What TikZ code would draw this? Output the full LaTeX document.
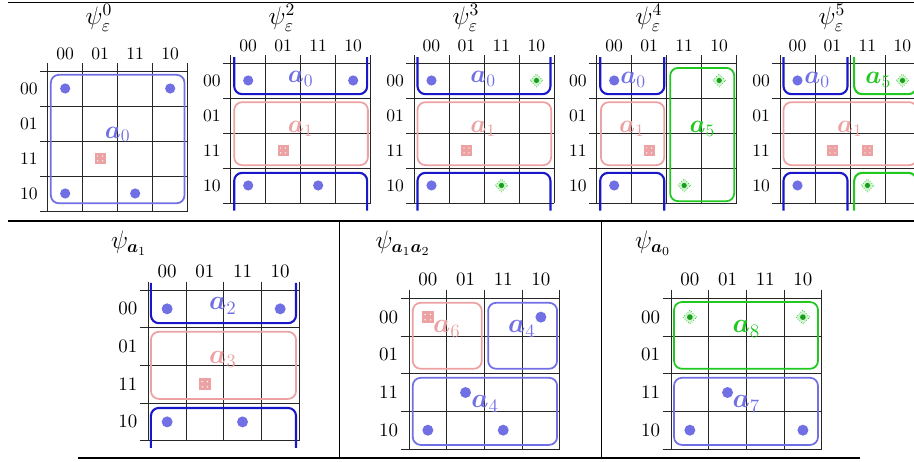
\documentclass[tikz,border=0pt]{standalone}
\usepackage{amsmath}
\usepackage{amssymb}
\usepackage{xcolor}
\usepackage{tikz}
\usetikzlibrary{shapes}

\definecolor{ptblue}{RGB}{112,112,228}
\definecolor{brblue}{RGB}{24,24,200}
\definecolor{ptpink}{RGB}{236,162,162}
\definecolor{ptgreen}{RGB}{32,200,32}

\begin{document}
\begin{tikzpicture}
  [x=0.02cm,y=0.02cm,
    %every node/.style={inner sep=1pt},
    gridline/.style={line width=0.5pt,black!85},
    bdot/.style={circle,fill=ptblue,inner sep=0pt,minimum size=5.8pt},
    pmark/.style={rectangle,fill=ptpink,inner sep=0pt,minimum size=6.3pt,
      path picture={\foreach \dx in {-1.4pt,1.4pt} \foreach \dy in {-1.4pt,1.4pt}
        \fill[white] ([shift={(\dx,\dy)}]path picture bounding box.center) circle (0.4pt);}},
    gmark/.style={diamond,draw=ptgreen,densely dotted,fill=ptgreen!20,inner sep=0pt,minimum size=7.5pt,
      path picture={\fill[ptgreen!80!black] (path picture bounding box.center) circle (1.5pt);}},
    grp/.style={rounded corners=4.5pt,line width=1pt},
    wrap/.style={rounded corners=4.5pt,line width=1.2pt,brblue},
    glabel/.style={font=\Large,anchor=base},
    title/.style={font=\Large,anchor=base},
    kmap/.pic={
      \foreach \i in {0,...,4} {
        \draw[gridline] (-0.22,-\i) -- (4,-\i);
        \draw[gridline] (\i,0.22) -- (\i,-4);
      }
      \foreach \lab [count=\i from 0] in {00,01,11,10} {
        \node (-col\lab) at (\i+0.5,0.5) {\lab};
        \node (-row\lab) at (-0.54,-\i-0.5) {\lab};
      }
    }]
  \useasboundingbox (0,0) rectangle (914,462);

  % top row
  \node[title] (t0) at (99,437) {$\psi_\varepsilon^0$};
  \node[title] (t2) at (282,437) {$\psi_\varepsilon^2$};
  \node[title] (t3) at (466,437) {$\psi_\varepsilon^3$};
  \node[title] (t4) at (649,437) {$\psi_\varepsilon^4$};
  \node[title] (t5) at (832,437) {$\psi_\varepsilon^5$};

  \begin{scope}[shift={(47.7,391)},x=0.7cm,y=0.7cm]
    \pic (m0) at (0,0) {kmap};
    \draw[grp,ptblue] (0.09,-0.11) rectangle (3.91,-3.78);
    \node[bdot] (m0d1) at (0.5,-0.5) {};
    \node[bdot] (m0d2) at (3.5,-0.5) {};
    \node[bdot] (m0d3) at (0.5,-3.5) {};
    \node[bdot] (m0d4) at (2.5,-3.5) {};
    \node[pmark] (m0p1) at (1.5,-2.5) {};
    \node[glabel,ptblue] (m0a0) at (2,-1.92) {$\boldsymbol{a}_0$};
  \end{scope}

  \begin{scope}[shift={(230.7,399)},x=0.7cm,y=0.7cm]
    \pic (m2) at (0,0) {kmap};
    \draw[wrap] (0.1,0.17) -- (0.1,-0.89) -- (3.9,-0.89) -- (3.9,0.17);
    \draw[wrap] (0.1,-4.22) -- (0.1,-3.14) -- (3.9,-3.14) -- (3.9,-4.22);
    \draw[grp,ptpink] (0.1,-1.12) rectangle (3.92,-2.92);
    \node[bdot] (m2d1) at (0.5,-0.5) {};
    \node[bdot] (m2d2) at (3.5,-0.5) {};
    \node[bdot] (m2d3) at (0.5,-3.5) {};
    \node[bdot] (m2d4) at (2.5,-3.5) {};
    \node[pmark] (m2p1) at (1.5,-2.5) {};
    \node[glabel,ptblue] (m2a0) at (2,-0.57) {$\boldsymbol{a}_0$};
    \node[glabel,ptpink] (m2a1) at (2,-1.98) {$\boldsymbol{a}_1$};
  \end{scope}

  \begin{scope}[shift={(414,399)},x=0.7cm,y=0.7cm]
    \pic (m3) at (0,0) {kmap};
    \draw[wrap] (0.1,0.17) -- (0.1,-0.89) -- (3.9,-0.89) -- (3.9,0.17);
    \draw[wrap] (0.1,-4.22) -- (0.1,-3.14) -- (3.9,-3.14) -- (3.9,-4.22);
    \draw[grp,ptpink] (0.1,-1.12) rectangle (3.92,-2.92);
    \node[bdot] (m3d1) at (0.5,-0.5) {};
    \node[bdot] (m3d2) at (0.5,-3.5) {};
    \node[gmark] (m3g1) at (3.5,-0.5) {};
    \node[gmark] (m3g2) at (2.5,-3.5) {};
    \node[pmark] (m3p1) at (1.5,-2.5) {};
    \node[glabel,ptblue] (m3a0) at (1.98,-0.55) {$\boldsymbol{a}_0$};
    \node[glabel,ptpink] (m3a1) at (1.98,-1.98) {$\boldsymbol{a}_1$};
  \end{scope}

  \begin{scope}[shift={(596.7,399)},x=0.7cm,y=0.7cm]
    \pic (m4) at (0,0) {kmap};
    \draw[wrap] (0.1,0.17) -- (0.1,-0.89) -- (1.93,-0.89) -- (1.93,0.17);
    \draw[wrap] (0.1,-4.22) -- (0.1,-3.14) -- (1.93,-3.14) -- (1.93,-4.22);
    \draw[grp,ptpink] (0.12,-1.12) rectangle (1.93,-2.92);
    \draw[grp,ptgreen] (2.1,-0.14) rectangle (3.93,-3.95);
    \node[bdot] (m4d1) at (0.5,-0.5) {};
    \node[bdot] (m4d2) at (0.5,-3.5) {};
    \node[gmark] (m4g1) at (3.5,-0.5) {};
    \node[gmark] (m4g2) at (2.5,-3.5) {};
    \node[pmark] (m4p1) at (1.5,-2.5) {};
    \node[glabel,ptblue] (m4a0) at (1.04,-0.6) {$\boldsymbol{a}_0$};
    \node[glabel,ptpink] (m4a1) at (1.01,-1.98) {$\boldsymbol{a}_1$};
    \node[glabel,ptgreen] (m4a5) at (3.02,-1.98) {$\boldsymbol{a}_5$};
  \end{scope}

  \begin{scope}[shift={(780,399)},x=0.7cm,y=0.7cm]
    \pic (m5) at (0,0) {kmap};
    \draw[wrap] (0.1,0.17) -- (0.1,-0.89) -- (1.93,-0.89) -- (1.93,0.17);
    \draw[wrap] (0.1,-4.22) -- (0.1,-3.14) -- (1.93,-3.14) -- (1.93,-4.22);
    \draw[wrap,ptgreen] (2.12,0.17) -- (2.12,-0.89) -- (3.9,-0.89) -- (3.9,0.17);
    \draw[wrap,ptgreen] (2.12,-4.22) -- (2.12,-3.14) -- (3.9,-3.14) -- (3.9,-4.22);
    \draw[grp,ptpink] (0.1,-1.12) rectangle (3.92,-2.92);
    \node[bdot] (m5d1) at (0.5,-0.5) {};
    \node[bdot] (m5d2) at (0.5,-3.5) {};
    \node[gmark] (m5g1) at (3.5,-0.5) {};
    \node[gmark] (m5g2) at (2.5,-3.5) {};
    \node[pmark] (m5p1) at (1.5,-2.5) {};
    \node[pmark] (m5p2) at (2.5,-2.5) {};
    \node[glabel,ptblue] (m5a0) at (1.06,-0.6) {$\boldsymbol{a}_0$};
    \node[glabel,ptgreen] (m5a5) at (2.81,-0.6) {$\boldsymbol{a}_5$};
    \node[glabel,ptpink] (m5a1) at (2,-1.98) {$\boldsymbol{a}_1$};
  \end{scope}

  % bottom row
  \node[title] (b1t) at (129,213) {$\psi_{\boldsymbol{a}_1}$};
  \node[title] (b2t) at (403,213) {$\psi_{\boldsymbol{a}_1\boldsymbol{a}_2}$};
  \node[title] (b3t) at (653,213) {$\psi_{\boldsymbol{a}_0}$};

  \begin{scope}[shift={(148.3,172)},x=0.7cm,y=0.7cm,scale=1.077,transform shape]
    \pic (b1) at (0,0) {kmap};
    \draw[wrap] (0.07,0.19) -- (0.07,-0.88) -- (3.92,-0.88) -- (3.92,0.19);
    \draw[wrap] (0.07,-4.19) -- (0.07,-3.13) -- (3.92,-3.13) -- (3.92,-4.19);
    \draw[grp,ptpink] (0.07,-1.11) rectangle (3.92,-2.89);
    \node[bdot] (b1d1) at (0.5,-0.5) {};
    \node[bdot] (b1d2) at (3.5,-0.5) {};
    \node[bdot] (b1d3) at (0.5,-3.5) {};
    \node[bdot] (b1d4) at (2.5,-3.5) {};
    \node[pmark] (b1p1) at (1.5,-2.5) {};
    \node[glabel,ptblue] (b1a2) at (1.98,-0.53) {$\boldsymbol{a}_2$};
    \node[glabel,ptpink] (b1a3) at (1.98,-1.94) {$\boldsymbol{a}_3$};
  \end{scope}

  \begin{scope}[shift={(409,163.7)},x=0.7cm,y=0.7cm,scale=1.077,transform shape]
    \pic (b2) at (0,0) {kmap};
    \draw[grp,ptpink] (0.1,-0.12) rectangle (1.93,-1.87);
    \draw[grp,ptblue] (2.1,-0.12) rectangle (3.93,-1.87);
    \draw[grp,ptblue] (0.1,-2.11) rectangle (3.93,-3.89);
    \node[pmark] (b2p1) at (0.5,-0.5) {};
    \node[bdot] (b2d1) at (3.5,-0.5) {};
    \node[bdot] (b2d2) at (1.5,-2.5) {};
    \node[bdot] (b2d3) at (0.5,-3.5) {};
    \node[bdot] (b2d4) at (2.5,-3.5) {};
    \node[glabel,ptpink] (b2a6) at (1.01,-0.92) {$\boldsymbol{a}_6$};
    \node[glabel,ptblue] (b2a4) at (3,-0.92) {$\boldsymbol{a}_4$};
    \node[glabel,ptblue] (b2a4b) at (2.02,-2.91) {$\boldsymbol{a}_4$};
  \end{scope}

  \begin{scope}[shift={(671,163.7)},x=0.7cm,y=0.7cm,scale=1.077,transform shape]
    \pic (b3) at (0,0) {kmap};
    \draw[grp,ptgreen] (0.08,-0.1) rectangle (3.9,-1.87);
    \draw[grp,ptblue] (0.08,-2.11) rectangle (3.9,-3.89);
    \node[gmark] (b3g1) at (0.5,-0.5) {};
    \node[gmark] (b3g2) at (3.5,-0.5) {};
    \node[bdot] (b3d1) at (1.5,-2.5) {};
    \node[bdot] (b3d2) at (0.5,-3.5) {};
    \node[bdot] (b3d3) at (3.5,-3.5) {};
    \node[glabel,ptgreen] (b3a8) at (2,-0.92) {$\boldsymbol{a}_8$};
    \node[glabel,ptblue] (b3a7) at (2,-2.91) {$\boldsymbol{a}_7$};
  \end{scope}

  % rules of the table
  \draw[line width=0.9pt] (8,459.3) -- (914,459.3);
  \draw[line width=0.6pt] (8,241) -- (914,241);
  \draw[line width=0.4pt] (339,241) -- (339,4);
  \draw[line width=0.4pt] (601,241) -- (601,4);
  \draw[line width=0.8pt] (78,4) -- (860,4);
\end{tikzpicture}
\end{document}
